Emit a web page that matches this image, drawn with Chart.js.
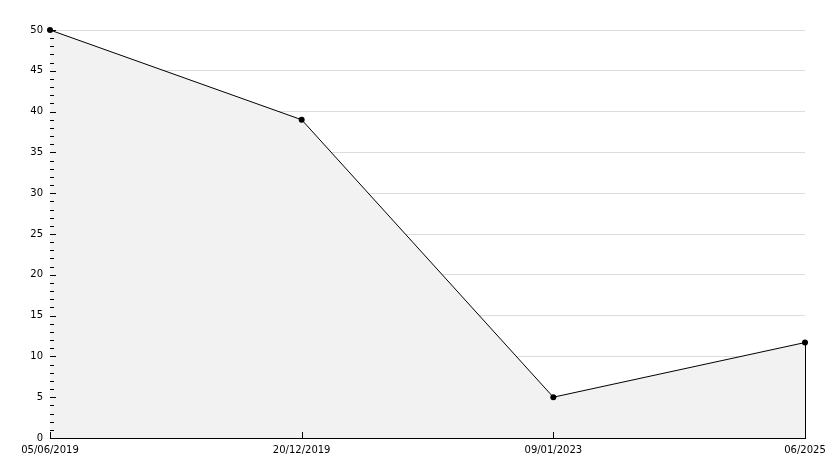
<!DOCTYPE html>
<html>
<head>
<meta charset="utf-8">
<script src="https://cdn.jsdelivr.net/npm/chart.js@4"></script>
<style>
    body { margin: 0; background: #fff; }
    canvas { display: block; }
</style>
</head>
<body>
<canvas id="chart" width="834" height="468"></canvas>
<script>
let dateLabels = ["05/06/2019", "20/12/2019", "09/01/2023", "06/2025"];
let values = [50, 39, 5, 11.7];
let yMin = 0;
let yMax = 50;
let yStep = 5;

// small tick marks drawn inside the plot, like the original
let tickMarks = {
    id: "tickMarks",
    afterDatasetsDraw(chart) {
        let ctx = chart.ctx;
        let x = chart.scales.x;
        let y = chart.scales.y;
        let left = Math.round(y.right);
        let bottom = Math.round(x.top);

        ctx.save();
        ctx.strokeStyle = "#000";
        ctx.lineWidth = 1;
        ctx.beginPath();

        for (let v = yMin; v <= yMax; v++) {
            let py = Math.round(y.getPixelForValue(v)) + 0.5;
            let len = v % yStep === 0 ? 6 : 4;
            ctx.moveTo(left, py);
            ctx.lineTo(left + len, py);
        }

        dateLabels.forEach((l, i) => {
            let px = Math.round(x.getPixelForValue(i)) + 0.5;
            ctx.moveTo(px, bottom);
            ctx.lineTo(px, bottom - 6);
        });

        // right edge of the filled area
        let last = values.length - 1;
        let ex = Math.round(x.getPixelForValue(last)) + 0.5;
        ctx.moveTo(ex, y.getPixelForValue(values[last]));
        ctx.lineTo(ex, bottom);

        ctx.stroke();
        ctx.restore();
    }
};

new Chart(document.getElementById("chart"), {
    type: "line",
    data: {
        labels: dateLabels,
        datasets: [{
            data: values,
            borderColor: "#000",
            borderWidth: 1,
            backgroundColor: "#f2f2f2",
            fill: "origin",
            clip: false,
            tension: 0,
            pointRadius: 3,
            pointBackgroundColor: "#000",
            pointBorderColor: "#000",
            pointBorderWidth: 0
        }]
    },
    options: {
        responsive: false,
        animation: false,
        layout: {
            padding: { top: 30, right: 29, left: 0, bottom: 0 }
        },
        plugins: {
            legend: { display: false },
            tooltip: { enabled: false }
        },
        scales: {
            x: {
                type: "category",
                offset: false,
                afterFit: s => { s.height = 30; },
                grid: { display: false, drawTicks: false },
                border: { display: true, color: "#000", width: 1 },
                ticks: {
                    autoSkip: false,
                    maxRotation: 0,
                    padding: 6,
                    color: "#000",
                    font: { family: "DejaVu Sans", size: 10 }
                }
            },
            y: {
                min: yMin,
                max: yMax,
                afterFit: s => { s.width = 50; },
                grid: {
                    color: "#dcdcdc",
                    drawTicks: false
                },
                border: { display: true, color: "#000", width: 1 },
                ticks: {
                    stepSize: yStep,
                    padding: 7,
                    color: "#000",
                    font: { family: "DejaVu Sans", size: 10 }
                }
            }
        }
    },
    plugins: [tickMarks]
});
</script>
</body>
</html>
